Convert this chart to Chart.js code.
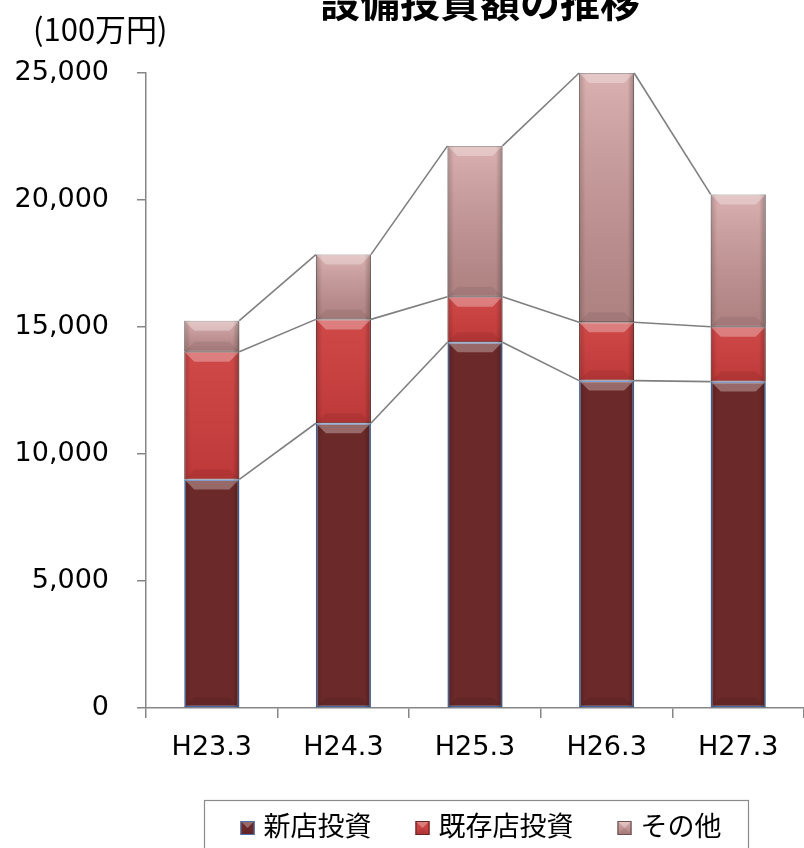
<!DOCTYPE html>
<html lang="ja">
<head>
<meta charset="UTF-8">
<title>設備投資額の推移</title>
<script src="https://cdn.jsdelivr.net/npm/chart.js"></script>
<style>
  html, body { margin: 0; padding: 0; background: #fff; }
  #wrap { width: 804px; height: 848px; position: relative; }
</style>
</head>
<body>
<div id="wrap"><canvas id="capexChart" width="804" height="848"></canvas></div>
<script>
// 年度
const categories = ['H23.3', 'H24.3', 'H25.3', 'H26.3', 'H27.3'];
// 単位: 100万円
const shintenValues = [9000, 11210, 14400, 12890, 12850];
const kizonValues = [5030, 4090, 1790, 2300, 2160];
const sonotaValues = [1220, 2550, 5940, 9810, 5210];
const seriesNames = ['新店投資', '既存店投資', 'その他'];
const yMax = 25000;
const yStep = 5000;

const fillColors = ['#6b2929', '#cd3d3d', '#d09a9a'];
const edgeColors = ['#4a72b0', '#6a2424', '#6e5252'];
// 上端→下端の明暗（その他だけはっきりしたグラデーション）
const shadeTop = [0.0, 0.06, 0.22];
const shadeBottom = [0.0, 0.08, 0.16];
const numFont = "'DejaVu Sans', 'Noto Sans CJK JP', sans-serif";
const jpFont = "'Noto Sans CJK JP', 'DejaVu Sans', sans-serif";

// 立体風のベベルを描く
function bevelRect(ctx, left, top, w, h, i) {
  const b = Math.min(10, h / 2, w / 2);
  let g = ctx.createLinearGradient(0, top, 0, top + h);
  g.addColorStop(0, 'rgba(255,255,255,' + shadeTop[i] + ')');
  g.addColorStop(1, 'rgba(0,0,0,' + shadeBottom[i] + ')');
  ctx.fillStyle = g;
  ctx.fillRect(left, top, w, h);

  g = ctx.createLinearGradient(left, 0, left + w, 0);
  g.addColorStop(0, 'rgba(0,0,0,0.18)');
  g.addColorStop(0.12, 'rgba(0,0,0,0)');
  g.addColorStop(0.88, 'rgba(0,0,0,0)');
  g.addColorStop(1, 'rgba(0,0,0,0.26)');
  ctx.fillStyle = g;
  ctx.fillRect(left, top, w, h);

  ctx.fillStyle = 'rgba(255,255,255,0.30)';
  ctx.beginPath();
  ctx.moveTo(left, top);
  ctx.lineTo(left + w, top);
  ctx.lineTo(left + w - b, top + b);
  ctx.lineTo(left + b, top + b);
  ctx.closePath();
  ctx.fill();

  ctx.fillStyle = 'rgba(0,0,0,0.07)';
  ctx.beginPath();
  ctx.moveTo(left, top + h);
  ctx.lineTo(left + w, top + h);
  ctx.lineTo(left + w - b, top + h - b);
  ctx.lineTo(left + b, top + h - b);
  ctx.closePath();
  ctx.fill();
}

const barBevel = {
  id: 'barBevel',
  afterDatasetsDraw(chart) {
    const ctx = chart.ctx;
    ctx.save();
    chart.data.datasets.forEach((ds, i) => {
      chart.getDatasetMeta(i).data.forEach(el => {
        const p = el.getProps(['x', 'y', 'base', 'width'], true);
        bevelRect(ctx, p.x - p.width / 2, p.y, p.width, p.base - p.y, i);
      });
    });
    ctx.restore();
  }
};

// 系列線（棒の上端を隣の棒へつなぐ）
const seriesLines = {
  id: 'seriesLines',
  afterDatasetsDraw(chart) {
    const ctx = chart.ctx;
    ctx.save();
    ctx.strokeStyle = '#7f7f7f';
    ctx.lineWidth = 1.6;
    chart.data.datasets.forEach((ds, i) => {
      const els = chart.getDatasetMeta(i).data;
      for (let j = 0; j < els.length - 1; j++) {
        const a = els[j].getProps(['x', 'y', 'width'], true);
        const b = els[j + 1].getProps(['x', 'y', 'width'], true);
        ctx.beginPath();
        ctx.moveTo(a.x + a.width / 2, a.y);
        ctx.lineTo(b.x - b.width / 2, b.y);
        ctx.stroke();
      }
    });
    ctx.restore();
  }
};

// タイトル・単位・凡例
const decorations = {
  id: 'decorations',
  afterDraw(chart) {
    const ctx = chart.ctx;
    ctx.save();
    ctx.fillStyle = '#000';
    ctx.textBaseline = 'middle';

    ctx.font = "bold 40px " + jpFont;
    ctx.textAlign = 'center';
    ctx.fillText('設備投資額の推移', 480, 2);

    ctx.font = "31px " + jpFont;
    ctx.textAlign = 'left';
    ctx.fillText('(100万円)', 33, 29);

    // 凡例
    ctx.strokeStyle = '#8a8a8a';
    ctx.lineWidth = 1.2;
    ctx.strokeRect(204.5, 800.5, 544, 70);

    ctx.font = "27px " + jpFont;
    const box = 14, gap = 9, itemGap = 44;
    const widths = seriesNames.map(s => ctx.measureText(s).width);
    const total = widths.reduce((s, w) => s + box + gap + w, 0) + itemGap * (seriesNames.length - 1);
    let x = 481 - total / 2;
    seriesNames.forEach((name, i) => {
      ctx.fillStyle = fillColors[i];
      ctx.fillRect(x, 821, box, box);
      bevelRect(ctx, x, 821, box, box, i);
      ctx.strokeStyle = edgeColors[i];
      ctx.lineWidth = 1;
      ctx.strokeRect(x + 0.5, 821.5, box - 1, box - 1);
      ctx.fillStyle = '#000';
      ctx.fillText(name, x + box + gap, 826);
      x += box + gap + widths[i] + itemGap;
    });
    ctx.restore();
  }
};

const datasets = [shintenValues, kizonValues, sonotaValues].map((vals, i) => ({
  label: seriesNames[i],
  data: vals,
  backgroundColor: fillColors[i],
  borderColor: edgeColors[i],
  borderWidth: i === 0 ? 1.6 : 1,
  borderSkipped: false,
  barPercentage: 0.418,
  categoryPercentage: 1
}));

new Chart(document.getElementById('capexChart'), {
  type: 'bar',
  data: { labels: categories, datasets: datasets },
  plugins: [barBevel, seriesLines, decorations],
  options: {
    responsive: false,
    animation: false,
    locale: 'en-US',
    layout: { padding: { top: 73, right: 0, bottom: 0, left: 0 } },
    plugins: {
      legend: { display: false },
      tooltip: { enabled: false }
    },
    scales: {
      x: {
        stacked: true,
        grid: { drawOnChartArea: false, drawTicks: true, tickLength: 10, color: '#868686', lineWidth: 1.5, offset: true },
        border: { color: '#868686', width: 1.5 },
        ticks: { color: '#000', font: { family: numFont, size: 27 }, padding: 14 },
        afterFit(scale) { scale.height = 140; }
      },
      y: {
        stacked: true,
        min: 0,
        max: yMax,
        grid: { drawOnChartArea: false, drawTicks: true, tickLength: 9, color: '#868686', lineWidth: 1.5 },
        border: { color: '#868686', width: 1.5 },
        ticks: { stepSize: yStep, color: '#000', font: { family: numFont, size: 27 }, padding: 28 },
        afterFit(scale) { scale.width = 146; }
      }
    }
  }
});
</script>
</body>
</html>
